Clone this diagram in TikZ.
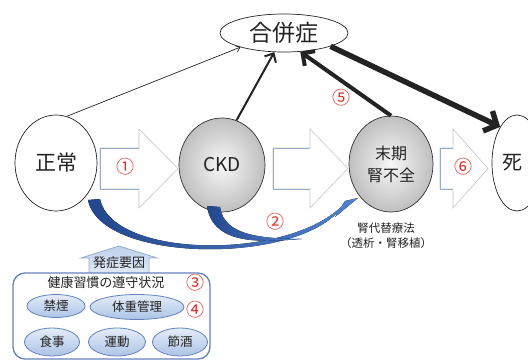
\documentclass[tikz,border=0pt]{standalone}
\usepackage{fontspec}
\setmainfont{Noto Sans CJK JP}
\usetikzlibrary{arrows.meta,shapes.geometric}
\definecolor{numred}{RGB}{222,45,35}
\definecolor{edgeblue}{RGB}{150,172,205}
\definecolor{boxblue}{RGB}{100,130,190}
\definecolor{pilltop}{RGB}{228,236,248}
\definecolor{pillbot}{RGB}{172,196,230}
\definecolor{housetop}{RGB}{190,208,236}
\definecolor{housebot}{RGB}{225,233,246}
\definecolor{curvedark}{RGB}{35,70,140}
\definecolor{curvelight}{RGB}{80,130,205}
\definecolor{ink}{RGB}{35,35,35}
\begin{document}
\begin{tikzpicture}[x=1pt,y=-1pt,
  state/.style={ellipse,draw=ink,line width=0.7pt,inner sep=0pt,fill=white,text=ink},
  grayball/.style={state,draw=gray!40!black,inner color=gray!6,outer color=gray!50},
  num/.style={text=numred,font=\fontsize{18}{18}\selectfont,inner sep=0pt},
  pill/.style={ellipse,draw=boxblue,line width=0.8pt,top color=pilltop,bottom color=pillbot,inner sep=0pt,text=ink,font=\fontsize{12.5}{13}\selectfont},
  stepshape/.style={fill=white,draw=gray!45,line width=0.6pt,line join=miter},
  stepedge/.style={draw=edgeblue,line width=0.8pt},
  link/.style={draw=ink}
]
\useasboundingbox (0,0) rectangle (528,361);
\fill[white] (0,0) rectangle (528,361);

% hollow block arrows
\foreach \p/\q/\r in {100/139/178, 273/310/348, 440/453/488} {
  \draw[stepshape] (\p,148) -- (\q,148) -- (\q,129) -- (\r,168.5) -- (\q,208) -- (\q,189) -- (\p,189) -- cycle;
  \draw[stepedge] (\q,148) -- (\p,148) -- (\p,189) -- (\q,189);
}

% main nodes
\node[state,minimum width=128pt,minimum height=38pt,font=\fontsize{23}{23}\selectfont] (gappei) at (284,33) {合併症};
\node[state,minimum width=82pt,minimum height=96pt,font=\fontsize{21}{21}\selectfont] (seijo) at (56,163) {正常};
\node[grayball,minimum width=86pt,minimum height=94pt,font=\fontsize{19}{19}\selectfont] (ckd) at (222,165) {CKD};
\node[grayball,minimum width=84pt,minimum height=96pt,font=\fontsize{16}{22}\selectfont,align=center] (esrd) at (391,164) {末期\\腎不全};
\node[state,minimum width=50pt,minimum height=96pt,font=\fontsize{20}{20}\selectfont] (shi) at (517,163) {\hspace*{-10pt}死};

% black arrows
\draw[link,line width=0.7pt,-{Straight Barb[length=4pt,width=7pt]}] (seijo.77) -- (gappei.198);
\draw[link,line width=2pt,-{Straight Barb[length=7pt,width=13pt]}] (ckd.72) -- (gappei.243);
\draw[link,line width=4pt,-{Straight Barb[length=9pt,width=18pt]}] (esrd.90) -- (gappei.311);
\draw[link,line width=5.5pt,-{Straight Barb[length=10pt,width=22pt]}] (gappei.344) -- (shi.115);

% blue curved arrows
\fill[left color=curvedark,right color=curvelight] (88,200) .. controls (100,262) and (290,265) .. (338.4,211.5) -- (335,217) -- (358,198) -- (345,201) -- (341.6,206.5) .. controls (285,261) and (112,258) .. (100,199) -- cycle;
\fill[left color=curvedark,right color=curvelight] (207,206) .. controls (213,246) and (262,242) .. (302,239) .. controls (262,238.5) and (224,236) .. (220,207) -- cycle;

% numbers
\node[num] (n1) at (125,167) {①};
\node[num] (n5) at (341,98) {⑤};
\node[num] (n6) at (463,167) {⑥};
\node[num] (n2) at (275,222) {②};

\node[text=ink,font=\fontsize{11.5}{15}\selectfont,align=center,inner sep=0pt] (rrt) at (386,236) {腎代替療法\\（透析・腎移植）};

% cause arrow and habits box
\shade[top color=housetop,bottom color=housebot,draw=edgeblue,line width=0.8pt] (89,273) -- (89,258) -- (81,258) -- (119,246) -- (157,258) -- (149,258) -- (149,273);
\node[text=ink,font=\fontsize{13}{13}\selectfont,inner sep=0pt] (cause) at (119,263) {発症要因};
\node[draw=boxblue,line width=1.3pt,rounded corners=12pt,minimum width=197pt,minimum height=86pt,inner sep=0pt] (habitbox) at (111.5,316) {};

\node[text=ink,font=\fontsize{13}{13}\selectfont,inner sep=0pt] (habit) at (106,283) {健康習慣の遵守状況};
\node[num] (n3) at (195,283) {③};
\node[num] (n4) at (195,310) {④};

\node[pill,minimum width=58pt,minimum height=23pt] (kinen) at (56,306) {禁煙};
\node[pill,minimum width=94pt,minimum height=25pt] (taiju) at (137,307) {体重管理};
\node[pill,minimum width=55pt,minimum height=28pt] (shokuji) at (52,342) {食事};
\node[pill,minimum width=57pt,minimum height=28pt] (undo) at (117,342) {運動};
\node[pill,minimum width=55pt,minimum height=28pt] (sessyu) at (180,342) {節酒};
\end{tikzpicture}
\end{document}
